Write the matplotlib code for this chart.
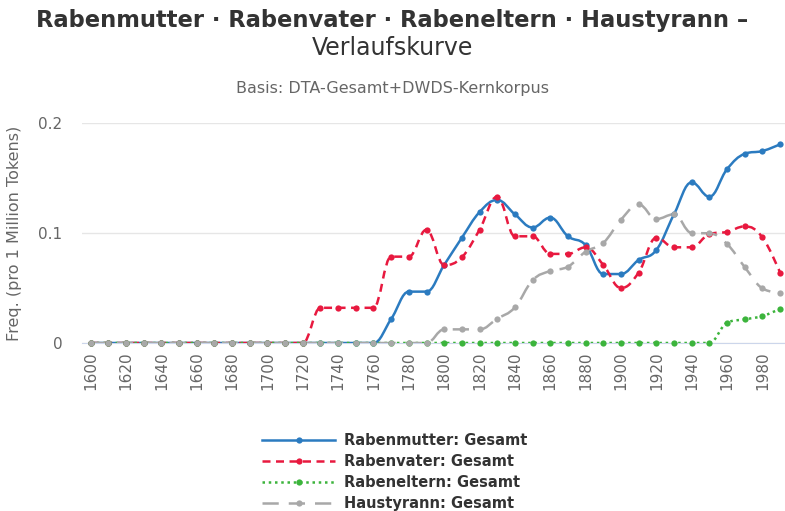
import matplotlib.pyplot as plt
import numpy as np
from matplotlib.path import Path
from matplotlib.patches import PathPatch
from matplotlib.lines import Line2D

years = list(range(1600, 2000, 10))

# values (freq. per 1 million tokens)
rabenmutter = [0]*17 + [0.0218, 0.0467, 0.0467, 0.071, 0.0957, 0.119, 0.130, 0.117,
                        0.105, 0.114, 0.097, 0.089, 0.0627, 0.0627, 0.0755, 0.0845,
                        0.117, 0.146, 0.133, 0.158, 0.172, 0.1745, 0.1806]
rabenvater = [0]*13 + [0.032, 0.032, 0.032, 0.032, 0.0785, 0.0785, 0.103, 0.0709, 0.078,
                       0.103, 0.133, 0.097, 0.097, 0.081, 0.081, 0.087, 0.071, 0.050,
                       0.064, 0.0957, 0.087, 0.087, 0.099, 0.101, 0.106, 0.096, 0.064]
rabeneltern = [0]*36 + [0.0185, 0.0215, 0.0245, 0.031]
haustyrann = [0]*20 + [0.0124, 0.0124, 0.0124, 0.022, 0.0324, 0.057, 0.0655, 0.0694,
                       0.083, 0.091, 0.112, 0.126, 0.1127, 0.117, 0.100, 0.0997, 0.090,
                       0.069, 0.0497, 0.0457]

names = ["Rabenmutter: Gesamt", "Rabenvater: Gesamt", "Rabeneltern: Gesamt", "Haustyrann: Gesamt"]
colors = ["#2b7bc0", "#e8193f", "#3cb43c", "#a8a8a8"]
styles = ["-", (0, (3.2, 2.2)), (0, (1, 1.5)), (0, (6.5, 4))]


def spline_path(xs, ys, smoothing=1.5):
    # highcharts-like spline: bezier control points per point
    n = len(xs)
    lc = [None]*n
    rc = [None]*n
    for i in range(n):
        x, y = xs[i], ys[i]
        if i == 0 or i == n - 1:
            lc[i] = (x, y)
            rc[i] = (x, y)
            continue
        lx, ly = xs[i-1], ys[i-1]
        nx, ny = xs[i+1], ys[i+1]
        d = smoothing + 1
        lcx = (smoothing*x + lx)/d
        lcy = (smoothing*y + ly)/d
        rcx = (smoothing*x + nx)/d
        rcy = (smoothing*y + ny)/d
        corr = (rcy - lcy)*(rcx - x)/(rcx - lcx) + y - rcy
        lcy += corr
        rcy += corr
        if lcy > ly and lcy > y:
            lcy = max(ly, y)
            rcy = 2*y - lcy
        elif lcy < ly and lcy < y:
            lcy = min(ly, y)
            rcy = 2*y - lcy
        if rcy > ny and rcy > y:
            rcy = max(ny, y)
            lcy = 2*y - rcy
        elif rcy < ny and rcy < y:
            rcy = min(ny, y)
            lcy = 2*y - rcy
        lc[i] = (lcx, lcy)
        rc[i] = (rcx, rcy)
    verts = [(xs[0], ys[0])]
    codes = [Path.MOVETO]
    for i in range(1, n):
        verts += [rc[i-1], lc[i], (xs[i], ys[i])]
        codes += [Path.CURVE4]*3
    return Path(verts, codes)


fig = plt.figure(figsize=(7.85, 5.11), dpi=100)
ax = fig.add_axes([82/785, 1 - 343/511, 703/785, 220/511])
ax.grid(axis="y", color="#e6e6e6", lw=1)
ax.set_axisbelow(True)

for vals, col, ls in zip([rabenmutter, rabenvater, rabeneltern, haustyrann], colors, styles):
    p = spline_path(years, vals)
    ax.add_patch(PathPatch(p, facecolor="none", edgecolor=col, lw=1.8, linestyle=ls,
                           capstyle="butt", zorder=3))
    ax.plot(years, vals, "o", color=col, ms=4.5, mec="none", zorder=4, clip_on=False)

ax.set_xlim(1595.1, 1992.8)
ax.set_ylim(0, 0.2)
ax.set_yticks([0, 0.1, 0.2])
ax.set_yticklabels(["0", "0.1", "0.2"])
ax.set_xticks(range(1600, 2000, 20))
ax.set_xticklabels([str(y) for y in range(1600, 2000, 20)], rotation=90)
ax.tick_params(axis="x", length=0, pad=6, labelsize=11, labelcolor="#666666")
ax.tick_params(axis="y", length=0, pad=14, labelsize=11, labelcolor="#666666")
for s in ["top", "right", "left"]:
    ax.spines[s].set_visible(False)
ax.spines["bottom"].set_color("#ccd6eb")
ax.spines["bottom"].set_zorder(2)
ax.set_ylabel("Freq. (pro 1 Million Tokens)", fontsize=11.5, color="#666666")
ax.yaxis.set_label_coords(-60/703, 0.5)

fig.text(0.5, 1 - 20/511, "Rabenmutter · Rabenvater · Rabeneltern · Haustyrann –",
         ha="center", va="center", fontsize=16.3, fontweight="bold", color="#333333")
fig.text(0.5, 1 - 48/511, "Verlaufskurve", ha="center", va="center", fontsize=17, color="#333333")
fig.text(0.5, 1 - 89/511, "Basis: DTA-Gesamt+DWDS-Kernkorpus", ha="center", va="center",
         fontsize=11.5, color="#666666")

handles = [Line2D([0], [0], color=c, lw=1.8, linestyle=ls, marker="o", ms=4.5, mec="none")
           for c, ls in zip(colors, styles)]
leg = fig.legend(handles, names, loc="center", bbox_to_anchor=(395/785, 1 - 472/511),
                 frameon=False, handlelength=5, numpoints=1, labelspacing=0.4,
                 handletextpad=0.6, prop={"size": 10.5, "weight": "bold"})
for t in leg.get_texts():
    t.set_color("#333333")

fig.savefig("out.png", dpi=100)
